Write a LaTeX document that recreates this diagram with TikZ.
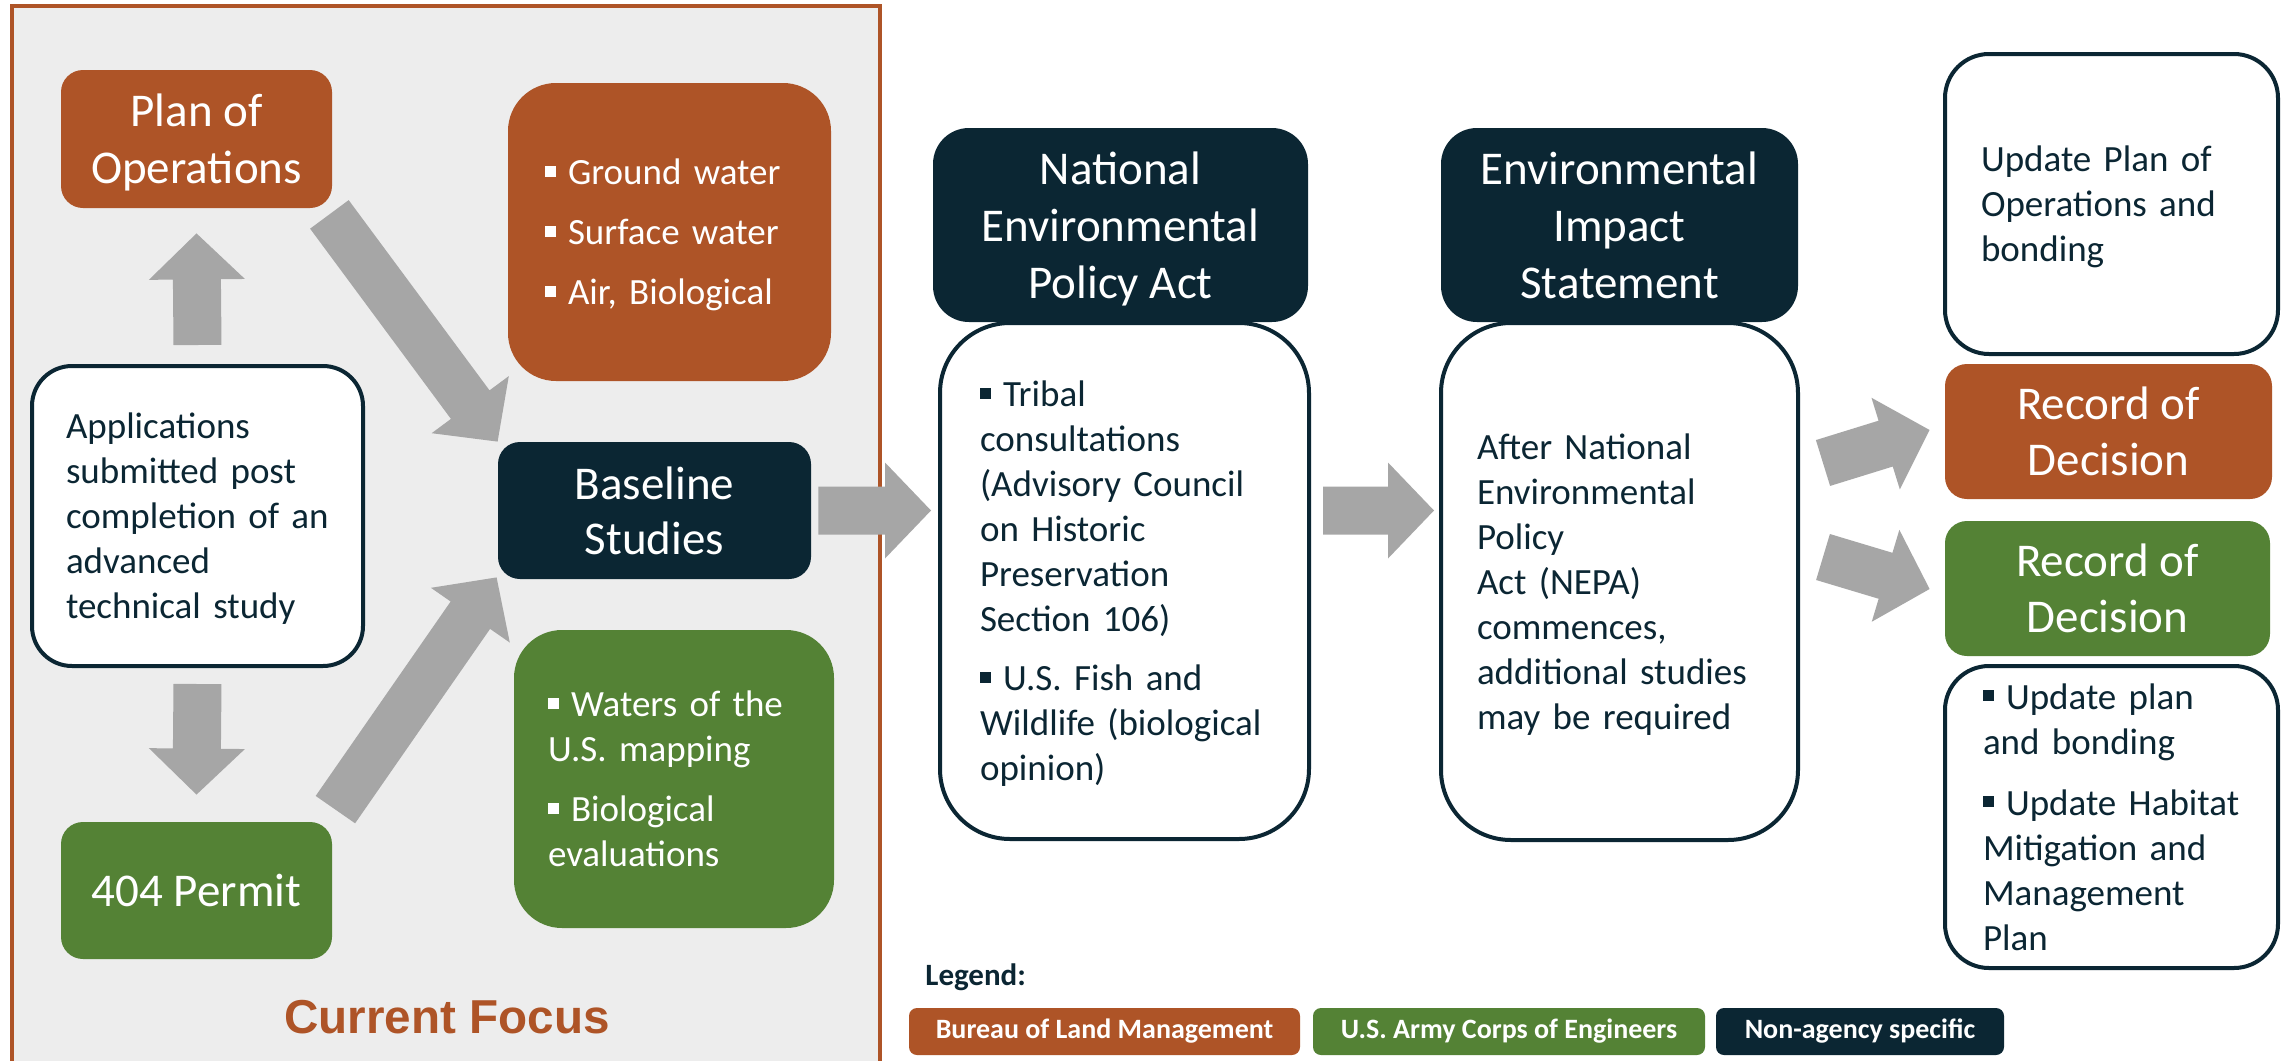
\documentclass[tikz,border=0pt]{standalone}
\usepackage{fontspec}
\setmainfont{Carlito}
\newfontfamily\focusfont{Liberation Sans}
\usetikzlibrary{calc}
\definecolor{blmbrown}{HTML}{AE5427}
\definecolor{usacegreen}{HTML}{548235}
\definecolor{navydark}{HTML}{0B2633}
\definecolor{arrowgrey}{HTML}{A6A6A6}
\definecolor{focusbg}{HTML}{EDEDED}
\newcommand\bul{\raisebox{4pt}{\rule{5.5pt}{5.5pt}}\hspace{6pt}}
\newcommand\pptop{\rule{0pt}{0.952em}}
\newcommand\pptbot{\rule[-0.269em]{0pt}{0pt}}
\newcommand\bodyfont{\fontsize{18.5}{22.5}\selectfont}
\newcommand\headfont{\fontsize{23.5}{28.5}\selectfont}
\newcommand\blockarrow[2]{%
  \coordinate (#1#2h) at ($(#2)!23pt!(#1)$);
  \fill[arrowgrey] ($(#1)!12pt!90:(#2)$) -- ($(#1#2h)!12pt!90:(#2)$) -- ($(#1#2h)!24pt!90:(#2)$) -- (#2)
    -- ($(#1#2h)!24pt!-90:(#2)$) -- ($(#1#2h)!12pt!-90:(#2)$) -- ($(#1)!12pt!-90:(#2)$) -- cycle;}
\tikzset{
  fillbox/.style={draw=none, inner sep=0pt, text=white, align=center, font=\headfont},
  brownbox/.style={fillbox, fill=blmbrown},
  greenbox/.style={fillbox, fill=usacegreen},
  darkbox/.style={fillbox, fill=navydark},
  whitebox/.style={draw=navydark, line width=2pt, fill=white, text=navydark, align=left, font=\bodyfont, inner ysep=0pt},
  legbox/.style={rounded corners=4pt, minimum height=23.5pt, text=white, inner sep=0pt,
    font=\fontsize{14}{16}\selectfont\bfseries}
}
\begin{document}
\begin{tikzpicture}[x=0.5pt,y=-0.5pt]
\useasboundingbox (0,0) rectangle (2283,1061);
\fill[white] (0,0) rectangle (2283,1061);
% current focus frame
\draw[blmbrown, line width=2pt, fill=focusbg] (12,6) rectangle (880,1080);

\node[brownbox, rounded corners=11pt, minimum width=135.5pt, minimum height=69pt] (plan) at (196.5,139) {\pptop Plan of\\Operations\pptbot};
\node[whitebox, rounded corners=20pt, minimum width=165.5pt, minimum height=150pt, text width=131.5pt, inner xsep=17pt] (apps) at (197.5,516) {\pptop Applications\\submitted post\\completion of an\\advanced\\technical study\pptbot};
\node[greenbox, rounded corners=11pt, minimum width=135.5pt, minimum height=68.5pt] (permit) at (196.5,890.5) {\pptop 404 Permit\pptbot};
\node[brownbox, rounded corners=24pt, minimum width=161.5pt, minimum height=149pt, text width=124.5pt, inner xsep=18.5pt, align=left, font=\bodyfont] (gw) at (669.5,232) {\pptop\bul Ground water\\[7.5pt]\bul Surface water\\[7.5pt]\bul Air, Biological\pptbot};
\node[darkbox, rounded corners=11pt, minimum width=156.5pt, minimum height=68.5pt, font=\fontsize{23.5}{27.5}\selectfont] (base) at (654.5,510.5) {\pptop Baseline\\Studies\pptbot};
\node[greenbox, rounded corners=24pt, minimum width=160pt, minimum height=149pt, text width=126pt, inner xsep=17pt, align=left, font=\bodyfont] (waters) at (674,779) {\pptop\bul Waters of the\\U.S. mapping\\[7.5pt]\bul Biological\\evaluations\pptbot};
\node[font=\focusfont\bfseries\fontsize{23.8}{26}\selectfont, text=blmbrown, inner sep=0pt] (focus) at (447,1017) {Current Focus};

% NEPA
\node[whitebox, rounded corners=35pt, minimum width=184.5pt, minimum height=258pt, text width=144.5pt, inner xsep=20pt] (nepab) at (1124.5,581) {\pptop\bul Tribal\\consultations\\(Advisory Council\\on Historic\\Preservation\\Section 106)\\[7pt]\bul U.S. Fish and\\Wildlife~(biological\\opinion)\pptbot};
\node[darkbox, rounded corners=18pt, minimum width=187.5pt, minimum height=97pt] (nepah) at (1120.5,225) {\pptop National\\Environmental\\Policy Act\pptbot};

% EIS
\node[whitebox, rounded corners=35pt, minimum width=178.5pt, minimum height=258.5pt, text width=142.5pt, inner xsep=18pt] (eisb) at (1619.5,581.5) {\pptop After National\\Environmental\\Policy\\Act (NEPA)\\commences,\\additional studies\\may be required\pptbot};
\node[darkbox, rounded corners=18pt, minimum width=178.5pt, minimum height=97pt] (eish) at (1619.5,225) {\pptop Environmental\\Impact\\Statement\pptbot};

% right column
\node[whitebox, rounded corners=22pt, minimum width=166.5pt, minimum height=150pt, text width=130.5pt, inner xsep=18pt] (upd) at (2111.5,204) {\pptop Update Plan of\\Operations and\\bonding\pptbot};
\node[brownbox, rounded corners=11pt, minimum width=163.5pt, minimum height=67.5pt, font=\fontsize{23.5}{28}\selectfont] (rodb) at (2108.5,431.5) {\pptop Record of\\Decision\pptbot};
\node[greenbox, rounded corners=11pt, minimum width=162.5pt, minimum height=67.5pt, font=\fontsize{23.5}{28}\selectfont] (rodg) at (2107.5,588.5) {\pptop Record of\\Decision\pptbot};
\node[whitebox, rounded corners=22pt, minimum width=166.5pt, minimum height=151pt, text width=128.5pt, inner xsep=19pt] (mit) at (2111.5,817) {\pptop\bul Update plan\\and bonding\\[8pt]\bul Update~Habitat\\Mitigation and\\Management\\Plan\pptbot};

% legend
\node[anchor=west, font=\fontsize{15.5}{18}\selectfont\bfseries, text=navydark, inner sep=0pt] (legend) at (925,977) {Legend:};
\node[legbox, fill=blmbrown, minimum width=195.5pt] (lgblm) at (1104.5,1031.5) {Bureau of Land Management};
\node[legbox, fill=usacegreen, minimum width=196pt] (lgace) at (1509,1031.5) {U.S. Army Corps of Engineers};
\node[legbox, fill=navydark, minimum width=144pt] (lgnon) at (1860,1031.5) {Non-agency specific};

% arrow end points
\coordinate (upT) at ($(apps.north)+(0,-19)$);
\coordinate (upH) at ($(plan.south)+(0,25)$);
\coordinate (dnT) at ($(apps.south)+(0,16)$);
\coordinate (dnH) at ($(permit.north)+(0,-27)$);
\coordinate (daT) at ($(plan.south east)+(-3,6)$);
\coordinate (daH) at (base.north west);
\coordinate (dbT) at ($(permit.north east)+(3,-12)$);
\coordinate (dbH) at ($(base.south west)+(-1,-2)$);
\coordinate (raT) at ($(base.east)+(7,0)$);
\coordinate (raH) at ($(nepab.west |- base.east)+(-7,0)$);
\coordinate (rbT) at ($(nepab.east |- base.east)+(12,0)$);
\coordinate (rbH) at ($(eisb.west |- base.east)+(-5,0)$);
\coordinate (qaT) at ($(eisb.east)+(23,-118.5)$);
\coordinate (qaH) at ($(rodb.west)+(-15,-1.5)$);
\coordinate (qbT) at ($(eisb.east)+(23,-24.5)$);
\coordinate (qbH) at ($(rodg.west)+(-15,0.5)$);

\blockarrow{upT}{upH}
\blockarrow{dnT}{dnH}
\blockarrow{daT}{daH}
\blockarrow{dbT}{dbH}
\blockarrow{raT}{raH}
\blockarrow{rbT}{rbH}
\blockarrow{qaT}{qaH}
\blockarrow{qbT}{qbH}
\end{tikzpicture}
\end{document}
